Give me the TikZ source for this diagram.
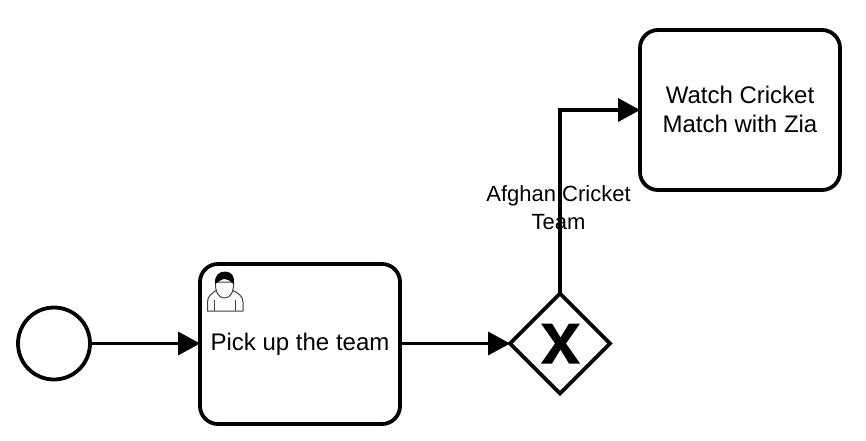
\documentclass[tikz,border=0pt]{standalone}
\usepackage{fontspec}
\setmainfont{Liberation Sans}
\usetikzlibrary{shapes.geometric,arrows.meta}
\tikzset{
  ev/.style={circle,draw=black,line width=3.8pt,fill=white,minimum size=72pt,inner sep=0pt,outer sep=0pt},
  taskbox/.style={rectangle,rounded corners=18pt,draw=black,line width=3.8pt,fill=white,minimum width=200pt,minimum height=160pt,inner sep=0pt,outer sep=0pt,align=center,font=\fontsize{24pt}{29pt}\selectfont},
  gate/.style={diamond,aspect=1,draw=black,line width=3.8pt,fill=white,minimum size=100pt,inner sep=0pt,outer sep=0pt},
  flow/.style={line width=3.8pt,draw=black,-{Triangle[length=22pt,width=24pt,line width=0pt,fill=black]}},
  lab/.style={align=center,font=\fontsize{22pt}{28pt}\selectfont,inner sep=0pt},
  usr/.style={draw=black!75,line width=1pt,line join=round}
}
\begin{document}
\begin{tikzpicture}[x=1pt,y=-1pt]
\useasboundingbox (0,0) rectangle (866,440);
\node[ev] (st) at (54,343.5) {};
\node[taskbox] (t1) at (300,344) {Pick up the team};
\node[gate] (gw) at (560,343.5) {};
\node[taskbox] (t2) at (740,110) {\raisebox{2pt}{Watch Cricket}\\\raisebox{2pt}{Match with Zia}};
\draw[flow] (st.east) -- (st.east -| t1.west);
\draw[flow] (t1.east |- gw.west) -- (gw.west);
\draw[flow] (gw.north) |- (t2.west);
\node[lab] (lb) at (558.5,208) {Afghan Cricket\\Team};
% exclusive gateway marker
\fill[black] (541,323.5) -- (552,323.5) -- (560.5,337.5) -- (569,323.5) -- (580,323.5) -- (566,343.5) -- (580,363.5) -- (569,363.5) -- (560.5,349.5) -- (552,363.5) -- (541,363.5) -- (555,343.5) -- cycle;
% user icon
\draw[usr,fill=white] (207.5,311) -- (207.5,302) .. controls (207.5,296) and (212,293) .. (217,290) -- (232,290) .. controls (238,293) and (243,296) .. (243,302) -- (243,311) -- cycle;
\draw[usr,fill=white] (224.5,298) .. controls (218,298) and (215,291) .. (215.5,282) -- (233.5,282) .. controls (234,291) and (231,298) .. (224.5,298) -- cycle;
\fill[black] (215.5,284) .. controls (213.5,276) and (219,271.5) .. (225,271.5) .. controls (231,271.5) and (235.5,276) .. (233.5,284) .. controls (230,281) and (228,279) .. (225,279) .. controls (222,279) and (219,281) .. (215.5,284) -- cycle;
\draw[usr] (214,300) -- (214,311);
\draw[usr] (235.5,300) -- (235.5,311);
\end{tikzpicture}
\end{document}
